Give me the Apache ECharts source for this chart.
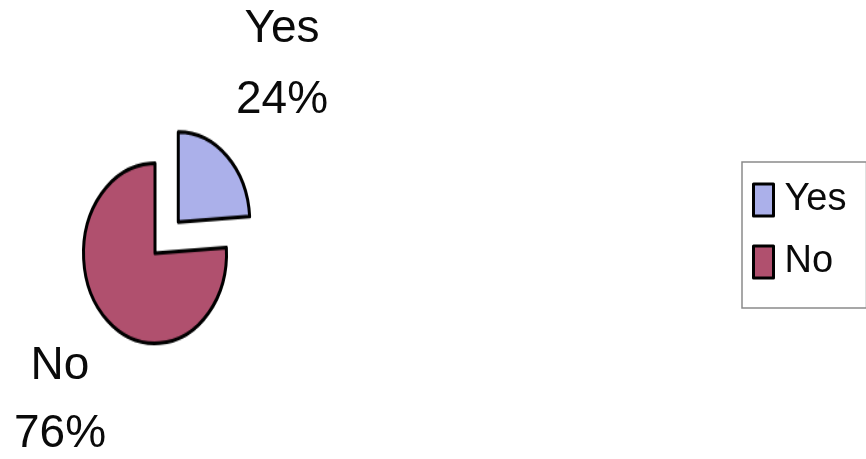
<!DOCTYPE html>
<html>
<head>
<meta charset="utf-8">
<script src="https://cdn.jsdelivr.net/npm/echarts@6/dist/echarts.min.js"></script>
<style>
  html, body { margin: 0; padding: 0; width: 866px; height: 459px; overflow: hidden; background: #ffffff; }
  #pie { position: absolute; left: 0; top: 0; width: 866px; height: 459px; transform: scaleY(1.26); transform-origin: 0 252px; }
  #overlay { position: absolute; left: 0; top: 0; width: 866px; height: 459px; }
</style>
</head>
<body>
<div id="pie"></div>
<div id="overlay"></div>
<script>
// ---- data ----
const categories = ['Yes', 'No'];
const values = [24, 76];
const colors = ['#ABB0EA', '#B0506E'];

const FONT = 'Liberation Sans, Arial, sans-serif';

const seriesData = categories.map((c, i) => ({
  name: c,
  value: values[i],
  selected: i === 0,
  itemStyle: { color: colors[i] }
}));

// ---- pie layer (stretched vertically like the original) ----
const pieChart = echarts.init(document.getElementById('pie'), null, { renderer: 'canvas' });
pieChart.setOption({
  animation: false,
  backgroundColor: '#ffffff',
  series: [{
    type: 'pie',
    center: [155, 253],
    radius: 71.5,
    startAngle: 90,
    clockwise: true,
    selectedMode: 'single',
    selectedOffset: 34,
    silent: true,
    label: { show: false },
    labelLine: { show: false },
    itemStyle: { borderColor: '#000000', borderWidth: 3 },
    emphasis: { disabled: true },
    data: seriesData
  }]
});

// ---- overlay: labels + legend ----
const labelPos = [
  { x: 282, yName: 29, yPct: 100 },
  { x: 60, yName: 366, yPct: 434 }
];
const graphics = [];
categories.forEach((c, i) => {
  graphics.push({
    type: 'text', x: labelPos[i].x, y: labelPos[i].yName,
    style: { text: c, font: '46px ' + FONT, fill: '#0a0a0a', textAlign: 'center', textVerticalAlign: 'middle' }
  });
  graphics.push({
    type: 'text', x: labelPos[i].x, y: labelPos[i].yPct,
    style: { text: values[i] + '%', font: '46px ' + FONT, fill: '#0a0a0a', textAlign: 'center', textVerticalAlign: 'middle' }
  });
});

const overlay = echarts.init(document.getElementById('overlay'), null, { renderer: 'canvas' });
overlay.setOption({
  animation: false,
  backgroundColor: 'transparent',
  legend: {
    orient: 'vertical',
    left: 742,
    top: 162,
    padding: [19, 20, 27, 10],
    itemGap: 24,
    itemWidth: 20,
    itemHeight: 32,
    icon: 'rect',
    selectedMode: false,
    borderColor: '#8a8a8a',
    borderWidth: 1.5,
    itemStyle: { borderColor: '#000000', borderWidth: 3 },
    textStyle: { fontFamily: FONT, fontSize: 38, color: '#0a0a0a', lineHeight: 32, padding: [0, 0, 0, 6] },
    data: categories
  },
  graphic: graphics,
  series: [{
    type: 'pie',
    center: [-1000, -1000],
    radius: 5,
    silent: true,
    label: { show: false },
    data: seriesData.map(d => ({ name: d.name, value: d.value, itemStyle: d.itemStyle }))
  }]
});
</script>
</body>
</html>
